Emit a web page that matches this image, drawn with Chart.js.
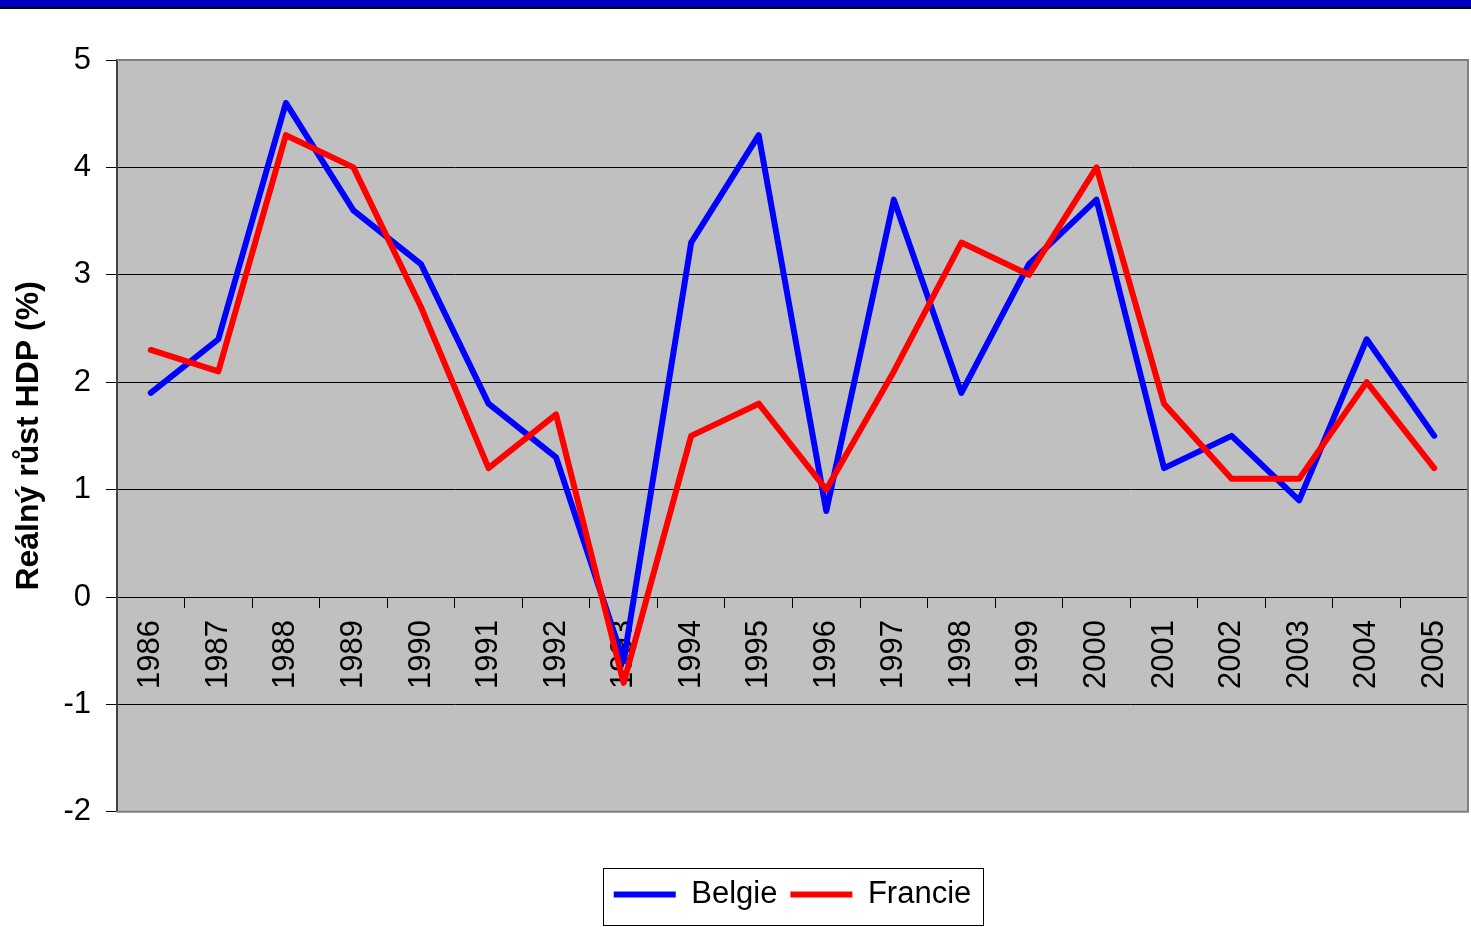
<!DOCTYPE html>
<html>
<head>
<meta charset="utf-8">
<script src="https://cdn.jsdelivr.net/npm/chart.js@4/dist/chart.umd.min.js"></script>
<style>
  html, body { margin: 0; padding: 0; background: #fff; }
  #wrap { width: 1471px; height: 927px; position: relative; }
</style>
</head>
<body>
<div id="wrap"><canvas id="growth"></canvas></div>
<script>
// data
const years = ['1986', '1987', '1988', '1989', '1990', '1991', '1992', '1993', '1994', '1995',
               '1996', '1997', '1998', '1999', '2000', '2001', '2002', '2003', '2004', '2005'];
const belgie = [1.9, 2.4, 4.6, 3.6, 3.1, 1.8, 1.3, -0.6, 3.3, 4.3, 0.8, 3.7, 1.9, 3.1, 3.7, 1.2, 1.5, 0.9, 2.4, 1.5];
const francie = [2.3, 2.1, 4.3, 4.0, 2.7, 1.2, 1.7, -0.8, 1.5, 1.8, 1.0, 2.1, 3.3, 3.0, 4.0, 1.8, 1.1, 1.1, 2.0, 1.2];
const yMin = -2, yMax = 5;
const yTitle = 'Reálný růst HDP (%)';

const FONT = "Arial, 'Liberation Sans', sans-serif";

// grey plot area, slide bar on top, frame round plot and legend
const frame = {
    id: 'frame',
    beforeDraw(chart) {
        const ctx = chart.ctx, a = chart.chartArea;
        ctx.save();
        ctx.fillStyle = '#0000c0';
        ctx.fillRect(0, 0, chart.width, 7);
        ctx.fillStyle = '#000';
        ctx.fillRect(0, 7, chart.width, 2);
        ctx.fillStyle = '#c0c0c0';
        ctx.fillRect(a.left, a.top, a.right - a.left, a.bottom - a.top);
        ctx.restore();
    },
    beforeDatasetsDraw(chart) {
        const ctx = chart.ctx, a = chart.chartArea;
        ctx.save();
        ctx.strokeStyle = '#808080';
        ctx.lineWidth = 2;
        ctx.beginPath();
        ctx.moveTo(a.left, a.top);
        ctx.lineTo(a.right, a.top);
        ctx.lineTo(a.right, a.bottom);
        ctx.lineTo(a.left, a.bottom);
        ctx.stroke();
        ctx.restore();
    },
    afterDraw(chart) {
        const boxes = chart.legend.legendHitBoxes;
        if (!boxes || !boxes.length) return;
        const first = boxes[0], last = boxes[boxes.length - 1];
        const cy = first.top + first.height / 2;
        const ctx = chart.ctx;
        ctx.save();
        ctx.strokeStyle = '#000';
        ctx.lineWidth = 1;
        const left = Math.round(first.left - 11) + 0.5;
        const right = Math.round(last.left + last.width + 12) + 0.5;
        ctx.strokeRect(left, Math.round(cy - 27) + 0.5, right - left, 57);
        ctx.restore();
    }
};

new Chart(document.getElementById('growth'), {
    type: 'line',
    data: {
        labels: years,
        datasets: [{
            label: 'Belgie',
            data: belgie,
            borderColor: '#0000ff',
            backgroundColor: '#0000ff',
            borderWidth: 6,
            borderCapStyle: 'round',
            borderJoinStyle: 'round',
            pointRadius: 0,
            tension: 0,
            order: 1
        }, {
            label: 'Francie',
            data: francie,
            borderColor: '#ff0000',
            backgroundColor: '#ff0000',
            borderWidth: 6,
            borderCapStyle: 'round',
            borderJoinStyle: 'round',
            pointRadius: 0,
            tension: 0,
            order: 0
        }]
    },
    options: {
        responsive: true,
        maintainAspectRatio: false,
        animation: false,
        layout: { padding: { top: 60, right: 3, bottom: 7, left: 0 } },
        scales: {
            x: {
                type: 'category',
                position: { y: 0 },
                offset: true,
                z: 1,
                afterFit(scale) { scale.paddingLeft = 0; scale.paddingRight = 0; },
                grid: { drawOnChartArea: false, offset: true, tickLength: 10, color: '#000' },
                border: { color: '#000', width: 1 },
                ticks: {
                    minRotation: 90, maxRotation: 90, autoSkip: false, padding: 13,
                    color: '#000', font: { family: FONT, size: 31 }
                }
            },
            y: {
                min: yMin,
                max: yMax,
                afterFit(scale) { scale.width = 117; },
                grid: { color: '#000', lineWidth: 1, tickLength: 11 },
                border: { color: '#404040', width: 2 },
                ticks: {
                    stepSize: 1, padding: 15, color: '#000',
                    font: { family: FONT, size: 31 }
                },
                title: {
                    display: true, text: yTitle, color: '#000',
                    font: { family: FONT, size: 32, weight: 'bold' },
                    padding: { top: 10, bottom: 0 }
                }
            }
        },
        plugins: {
            legend: {
                position: 'bottom',
                fullSize: false,
                title: { display: true, text: '', padding: { top: 53, bottom: 0 }, font: { size: 1 } },
                labels: {
                    usePointStyle: true,
                    pointStyle: 'line',
                    pointStyleWidth: 62,
                    padding: 13,
                    color: '#000',
                    font: { family: FONT, size: 31 },
                    sort: (a, b) => a.datasetIndex - b.datasetIndex
                }
            },
            tooltip: { enabled: false }
        }
    },
    plugins: [frame]
});
</script>
</body>
</html>
